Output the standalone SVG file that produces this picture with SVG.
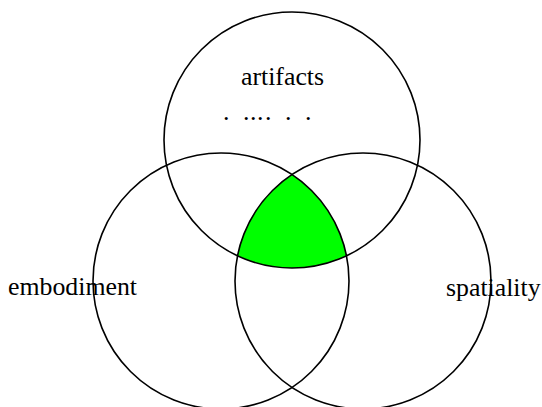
<svg xmlns="http://www.w3.org/2000/svg" width="542" height="407" viewBox="0 0 542 407">
<style>
.c{fill:none;stroke:#000;stroke-width:1.6}
.t{font-family:"Liberation Serif","Times New Roman",serif;font-size:25.8px;fill:#000}
</style>
<rect width="542" height="407" fill="#fff"/>
<g id="intersection">
<path d="M292,174.5 A128,128 0 0 0 237.5,255.8 A128,128 0 0 0 346.5,255.8 A128,128 0 0 0 292,174.5 Z" fill="#00ff00"/>
</g>
<g id="artifacts">
<circle class="c" cx="292" cy="140" r="128"/>
<text class="t" x="241" y="85">artifacts</text>
<text class="t" x="223 243 250 257 265 285 305" y="120">.......</text>
</g>
<g id="embodiment">
<circle class="c" cx="221" cy="281" r="128"/>
<text class="t" x="8" y="295">embodiment</text>
</g>
<g id="spatiality">
<circle class="c" cx="363" cy="281" r="128"/>
<text class="t" x="446" y="296">spatiality</text>
</g>
<g id="connectors"/>
</svg>
